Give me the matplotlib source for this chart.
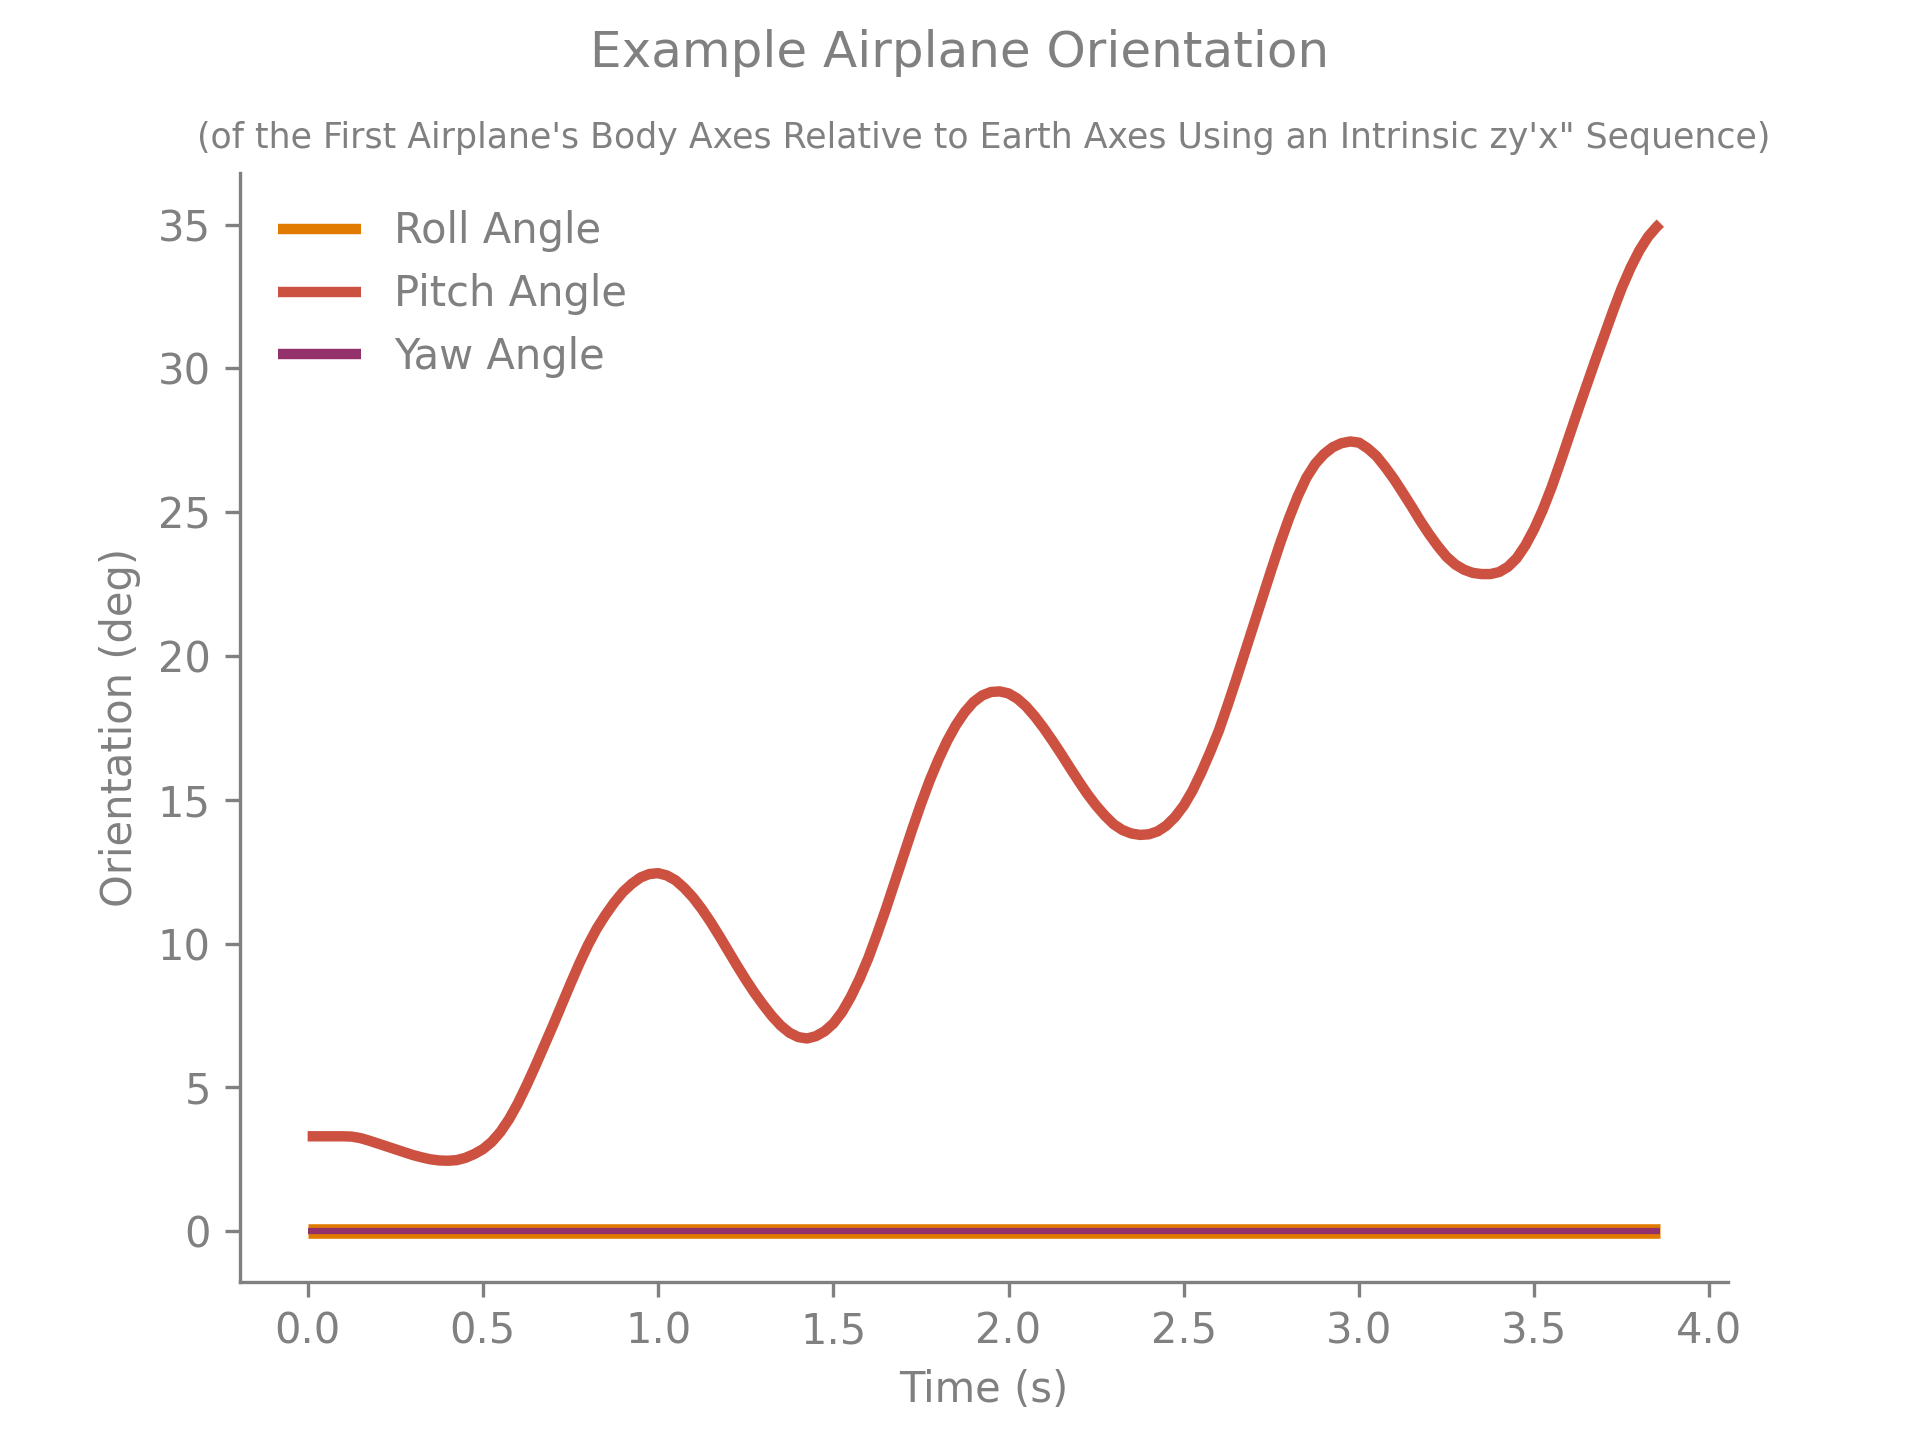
"""Example airplane orientation: roll / pitch / yaw angles over time."""

import matplotlib

matplotlib.use("Agg")
import matplotlib.pyplot as plt  # noqa: E402

# --- Data --------------------------------------------------------------

TIME_S = [
    0.000, 0.025, 0.050, 0.075, 0.100, 0.125, 0.150, 0.175,
    0.200, 0.225, 0.250, 0.275, 0.300, 0.325, 0.350, 0.375,
    0.400, 0.425, 0.450, 0.475, 0.500, 0.525, 0.550, 0.575,
    0.600, 0.625, 0.650, 0.675, 0.700, 0.725, 0.750, 0.775,
    0.800, 0.825, 0.850, 0.875, 0.900, 0.925, 0.950, 0.975,
    1.000, 1.025, 1.050, 1.075, 1.100, 1.125, 1.150, 1.175,
    1.200, 1.225, 1.250, 1.275, 1.300, 1.325, 1.350, 1.375,
    1.400, 1.425, 1.450, 1.475, 1.500, 1.525, 1.550, 1.575,
    1.600, 1.625, 1.650, 1.675, 1.700, 1.725, 1.750, 1.775,
    1.800, 1.825, 1.850, 1.875, 1.900, 1.925, 1.950, 1.975,
    2.000, 2.025, 2.050, 2.075, 2.100, 2.125, 2.150, 2.175,
    2.200, 2.225, 2.250, 2.275, 2.300, 2.325, 2.350, 2.375,
    2.400, 2.425, 2.450, 2.475, 2.500, 2.525, 2.550, 2.575,
    2.600, 2.625, 2.650, 2.675, 2.700, 2.725, 2.750, 2.775,
    2.800, 2.825, 2.850, 2.875, 2.900, 2.925, 2.950, 2.975,
    3.000, 3.025, 3.050, 3.075, 3.100, 3.125, 3.150, 3.175,
    3.200, 3.225, 3.250, 3.275, 3.300, 3.325, 3.350, 3.375,
    3.400, 3.425, 3.450, 3.475, 3.500, 3.525, 3.550, 3.575,
    3.600, 3.625, 3.650, 3.675, 3.700, 3.725, 3.750, 3.775,
    3.800, 3.825, 3.850, 3.860,
]

PITCH_DEG = [
    3.30, 3.30, 3.30, 3.30, 3.30, 3.29, 3.24, 3.15,
    3.05, 2.95, 2.85, 2.75, 2.65, 2.57, 2.50, 2.46,
    2.45, 2.47, 2.55, 2.68, 2.85, 3.10, 3.45, 3.90,
    4.45, 5.08, 5.75, 6.45, 7.15, 7.88, 8.60, 9.30,
    9.95, 10.52, 11.00, 11.43, 11.80, 12.08, 12.30, 12.42,
    12.45, 12.37, 12.20, 11.93, 11.60, 11.20, 10.75, 10.26,
    9.75, 9.24, 8.75, 8.29, 7.87, 7.48, 7.15, 6.90,
    6.75, 6.70, 6.78, 6.95, 7.22, 7.62, 8.15, 8.78,
    9.50, 10.33, 11.20, 12.12, 13.05, 13.97, 14.85, 15.67,
    16.40, 17.05, 17.60, 18.05, 18.40, 18.63, 18.75, 18.77,
    18.70, 18.52, 18.25, 17.90, 17.50, 17.06, 16.60, 16.12,
    15.65, 15.20, 14.80, 14.45, 14.15, 13.95, 13.83, 13.78,
    13.80, 13.90, 14.10, 14.40, 14.80, 15.32, 15.95, 16.65,
    17.40, 18.28, 19.20, 20.15, 21.10, 22.06, 23.00, 23.92,
    24.78, 25.55, 26.20, 26.68, 27.02, 27.26, 27.40, 27.46,
    27.42, 27.22, 26.95, 26.57, 26.15, 25.68, 25.20, 24.70,
    24.24, 23.82, 23.45, 23.18, 23.00, 22.89, 22.85, 22.85,
    22.92, 23.10, 23.40, 23.85, 24.42, 25.10, 25.88, 26.75,
    27.65, 28.55, 29.43, 30.30, 31.15, 32.00, 32.80, 33.50,
    34.10, 34.58, 34.93, 35.05,
]

ROLL_DEG = [0.0] * len(TIME_S)
YAW_DEG = [0.0] * len(TIME_S)

ROLL_COLOR = "#e07b00"
PITCH_COLOR = "#cc5140"
YAW_COLOR = "#93316a"
TEXT_COLOR = "gray"


def main() -> None:
    fig, ax = plt.subplots(figsize=(6.4, 4.8), dpi=300)

    ax.plot(TIME_S, ROLL_DEG, color=ROLL_COLOR, linewidth=3.5,
            solid_capstyle="butt", label="Roll Angle")
    ax.plot(TIME_S, PITCH_DEG, color=PITCH_COLOR, linewidth=2.5,
            solid_capstyle="butt", solid_joinstyle="round", label="Pitch Angle")
    ax.plot(TIME_S, YAW_DEG, color=YAW_COLOR, linewidth=1.5,
            solid_capstyle="butt", label="Yaw Angle")

    fig.suptitle("Example Airplane Orientation", color=TEXT_COLOR, fontsize=12)
    ax.set_title(
        "(of the First Airplane's Body Axes Relative to Earth Axes "
        "Using an Intrinsic zy'x\" Sequence)",
        color=TEXT_COLOR,
        fontsize="small",
    )
    ax.set_xlabel("Time (s)", color=TEXT_COLOR)
    ax.set_ylabel("Orientation (deg)", color=TEXT_COLOR)

    for side in ("top", "right"):
        ax.spines[side].set_visible(False)
    for side in ("left", "bottom"):
        ax.spines[side].set_color(TEXT_COLOR)
    ax.tick_params(colors=TEXT_COLOR)

    leg = ax.legend(loc="upper left", frameon=False, labelcolor=TEXT_COLOR)
    for line in leg.get_lines():
        line.set_linewidth(2.5)

    fig.savefig("out.png")


if __name__ == "__main__":
    main()
